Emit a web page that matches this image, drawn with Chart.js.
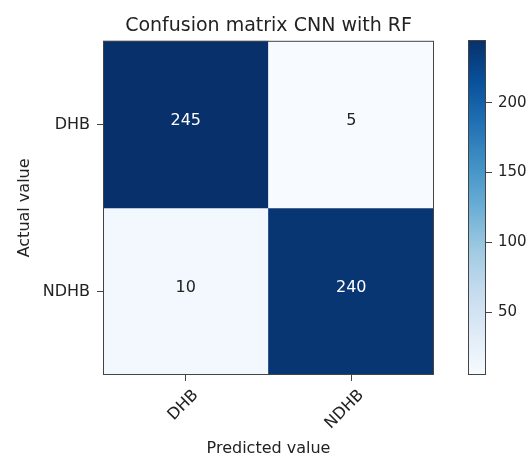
<!DOCTYPE html>
<html>
<head>
<meta charset="utf-8">
<title>Confusion matrix CNN with RF</title>
<script src="https://cdn.jsdelivr.net/npm/chart.js@4.4.1/dist/chart.umd.min.js"></script>
<style>
	html, body { margin: 0; padding: 0; background: #fff; }
	#wrap { position: relative; width: 532px; height: 460px; }
	#matrixChart { position: absolute; left: 0; top: 0; }
	#colorbarChart { position: absolute; left: 440px; top: 0; }
</style>
</head>
<body>
<div id="wrap">
	<canvas id="matrixChart" width="532" height="460"></canvas>
	<canvas id="colorbarChart" width="92" height="460"></canvas>
</div>
<script>
// --- Data ---
const predictedLabels = ["DHB", "NDHB"];
const actualLabels = ["DHB", "NDHB"];
const rowDHB = [245, 5];
const rowNDHB = [10, 240];
const colorbarTicks = [50, 100, 150, 200];
const valueMin = 5;
const valueMax = 245;

// matplotlib "Blues" colormap stops
const bluesStops = ["#f7fbff", "#deebf7", "#c6dbef", "#9ecae1", "#6baed6",
	"#4292c6", "#2171b5", "#08519c", "#08306b"];

const textColor = "#222222";
const frameColor = "#444444";
const fontFamily = "'DejaVu Sans', sans-serif";

function hexToRgb(hex) {
	const n = parseInt(hex.slice(1), 16);
	return [(n >> 16) & 255, (n >> 8) & 255, n & 255];
}

// Map a value onto the Blues colormap
function blues(value) {
	let t = (value - valueMin) / (valueMax - valueMin);
	t = Math.max(0, Math.min(1, t));
	const pos = t * (bluesStops.length - 1);
	const i = Math.min(Math.floor(pos), bluesStops.length - 2);
	const f = pos - i;
	const a = hexToRgb(bluesStops[i]);
	const b = hexToRgb(bluesStops[i + 1]);
	const c = a.map((v, k) => Math.round(v + (b[k] - v) * f));
	return `rgb(${c[0]}, ${c[1]}, ${c[2]})`;
}

// Frame around the plot area (all four spines)
const framePlugin = {
	id: "frame",
	afterDatasetsDraw(chart) {
		const { ctx, chartArea } = chart;
		ctx.save();
		ctx.strokeStyle = frameColor;
		ctx.lineWidth = 1;
		ctx.strokeRect(chartArea.left + 0.5, chartArea.top + 0.5,
			chartArea.right - chartArea.left - 1, chartArea.bottom - chartArea.top - 1);
		ctx.restore();
	},
};

// Cell value labels
const cellTextPlugin = {
	id: "cellText",
	afterDatasetsDraw(chart) {
		const { ctx } = chart;
		ctx.save();
		ctx.font = "16px " + fontFamily;
		ctx.textAlign = "center";
		ctx.textBaseline = "middle";
		chart.data.datasets.forEach((ds, di) => {
			const meta = chart.getDatasetMeta(di);
			meta.data.forEach((bar, j) => {
				const value = ds.values[j];
				ctx.fillStyle = value > (valueMax + valueMin) / 2 ? "#ffffff" : textColor;
				ctx.fillText(String(value), bar.x, (bar.y + bar.base) / 2 - 4);
			});
		});
		ctx.restore();
	},
};

// --- Confusion matrix ---
const rows = [rowDHB, rowNDHB];
const matrixChart = new Chart(document.getElementById("matrixChart"), {
	type: "bar",
	data: {
		labels: predictedLabels,
		datasets: rows.map((row, r) => ({
			label: actualLabels[r],
			data: row.map(() => [r, r + 1]),
			values: row,
			backgroundColor: row.map(blues),
			borderWidth: 0,
			barPercentage: 1,
			categoryPercentage: 1,
			grouped: false,
		})),
	},
	options: {
		responsive: false,
		animation: false,
		devicePixelRatio: 1,
		layout: { padding: { left: 0, right: 98, top: 0, bottom: 0 } },
		plugins: {
			legend: { display: false },
			tooltip: { enabled: false },
			title: {
				display: true,
				text: "Confusion matrix CNN with RF",
				color: textColor,
				font: { family: fontFamily, size: 19, weight: "normal" },
				padding: { top: 15, bottom: 3 },
				fullSize: false,
			},
		},
		scales: {
			x: {
				type: "category",
				offset: true,
				grid: {
					display: true,
					drawOnChartArea: false,
					drawTicks: true,
					tickLength: 6,
					offset: false,
					color: frameColor,
				},
				border: { display: false },
				ticks: {
					color: textColor,
					font: { family: fontFamily, size: 16 },
					minRotation: 45,
					maxRotation: 45,
					padding: 5,
					labelOffset: 10,
				},
				title: {
					display: true,
					text: "Predicted value",
					color: textColor,
					font: { family: fontFamily, size: 16 },
					padding: { top: 0, bottom: 2 },
				},
				afterFit(scale) {
					scale.height = 85;
				},
			},
			y: {
				type: "linear",
				min: 0,
				max: rows.length,
				reverse: true,
				afterBuildTicks(scale) {
					scale.ticks = actualLabels.map((_, i) => ({ value: i + 0.5 }));
				},
				grid: {
					display: true,
					drawOnChartArea: false,
					drawTicks: true,
					tickLength: 6,
					color: frameColor,
				},
				border: { display: false },
				ticks: {
					color: textColor,
					font: { family: fontFamily, size: 16 },
					padding: 7,
					callback: (value, index) => actualLabels[index],
				},
				title: {
					display: true,
					text: "Actual value",
					color: textColor,
					font: { family: fontFamily, size: 16 },
					padding: { top: 15, bottom: 0 },
				},
				afterFit(scale) {
					scale.width = 103;
				},
			},
		},
	},
	plugins: [framePlugin, cellTextPlugin],
});

// --- Colorbar ---
const colorbarChart = new Chart(document.getElementById("colorbarChart"), {
	type: "bar",
	data: {
		labels: [""],
		datasets: [
			{
				data: [[valueMin, valueMax]],
				backgroundColor: function (context) {
					const { ctx, chartArea } = context.chart;
					if (!chartArea) return null;
					const g = ctx.createLinearGradient(0, chartArea.bottom, 0, chartArea.top);
					bluesStops.forEach((c, i) => g.addColorStop(i / (bluesStops.length - 1), c));
					return g;
				},
				borderWidth: 0,
				barPercentage: 1,
				categoryPercentage: 1,
			},
		],
	},
	options: {
		responsive: false,
		animation: false,
		devicePixelRatio: 1,
		layout: { padding: { left: 28, right: 0, top: 40, bottom: 85 } },
		plugins: {
			legend: { display: false },
			tooltip: { enabled: false },
		},
		scales: {
			x: { display: false },
			y: {
				position: "right",
				min: valueMin,
				max: valueMax,
				afterBuildTicks(scale) {
					scale.ticks = colorbarTicks.map((v) => ({ value: v }));
				},
				grid: {
					display: true,
					drawOnChartArea: false,
					drawTicks: true,
					tickLength: 6,
					color: frameColor,
				},
				border: { display: false },
				ticks: {
					color: textColor,
					font: { family: fontFamily, size: 15 },
					padding: 6,
				},
				afterFit(scale) {
					scale.width = 46;
				},
			},
		},
	},
	plugins: [framePlugin],
});
</script>
</body>
</html>
